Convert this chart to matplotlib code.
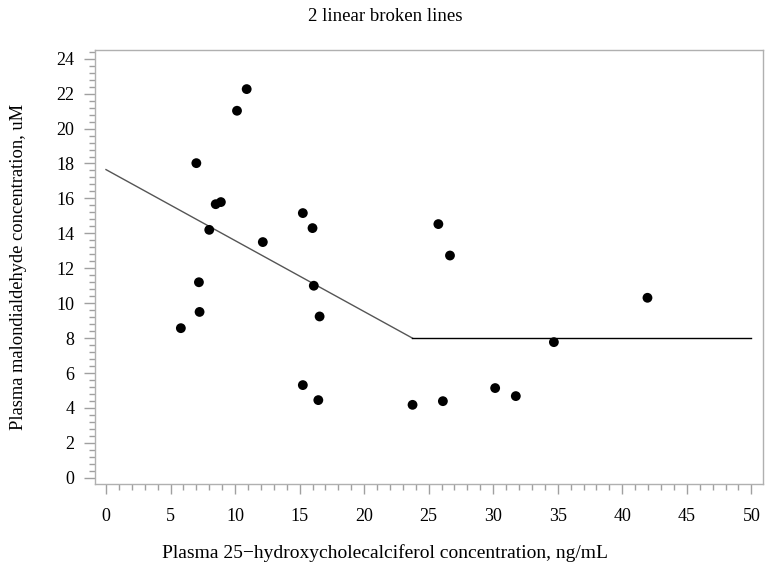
import matplotlib
matplotlib.use("Agg")
import matplotlib.pyplot as plt
import matplotlib.ticker as mticker

plt.rcParams["font.family"] = ["Liberation Serif", "DejaVu Serif"]

# 观测点：25-羟基维生素D 与 丙二醛
vit_d = [5.8, 7.0, 7.2, 7.25, 8.0, 8.5, 8.9, 10.15, 10.9, 12.15,
         15.25, 15.25, 16.0, 16.1, 16.45, 16.55, 23.75, 25.75, 26.1, 26.65,
         30.15, 31.75, 34.7, 41.95]
mda = [8.57, 18.02, 11.2, 9.5, 14.2, 15.67, 15.79, 21.02, 22.26, 13.5,
       15.16, 5.31, 14.3, 11.0, 4.45, 9.24, 4.18, 14.53, 4.39, 12.73,
       5.14, 4.68, 7.77, 10.31]

# 拟合的两段折线
fit_x = [0, 23.74, 50]
fit_y = [17.65, 8.0, 8.0]

fig = plt.figure(figsize=(7.7, 5.68), dpi=100)
ax_left, ax_w = 0.1234, 0.8675
ax = fig.add_axes([ax_left, 0.148, ax_w, 0.764])
fig_mid = (0.5 - ax_left) / ax_w  # 标题、x轴标题按整张图居中

ax.plot(fit_x[:2], fit_y[:2], color="#555555", linewidth=1.0, zorder=2)
ax.plot(fit_x[1:], fit_y[1:], color="black", linewidth=1.0, zorder=2)
ax.scatter(vit_d, mda, s=50, color="black", edgecolors="none", zorder=3)

ax.set_xlim(-0.85, 50.9)
ax.set_ylim(-0.35, 24.5)
ax.xaxis.set_major_locator(mticker.MultipleLocator(5))
ax.xaxis.set_minor_locator(mticker.MultipleLocator(1))
ax.yaxis.set_major_locator(mticker.MultipleLocator(2))
ax.yaxis.set_minor_locator(mticker.MultipleLocator(0.4))

for sp in ax.spines.values():
    sp.set_color("#b0b0b0")
    sp.set_linewidth(1.0)
ax.tick_params(which="both", width=1, color="#a0a0a0", labelsize=13)
ax.tick_params(axis="y", which="major", length=8, pad=7)
ax.tick_params(axis="y", which="minor", length=4.5)
ax.tick_params(axis="x", which="major", length=7, pad=10)
ax.tick_params(axis="x", which="minor", length=4.5)

ax.set_title("2 linear broken lines", fontsize=13.5, pad=21, x=fig_mid)
ax.set_xlabel("Plasma 25\u2212hydroxycholecalciferol concentration, ng/mL",
              fontsize=14, labelpad=14)
ax.xaxis.label.set_x(fig_mid)
ax.set_ylabel("Plasma malondialdehyde concentration, uM", fontsize=13.3,
              labelpad=21)

plt.savefig("out.png", dpi=100)
